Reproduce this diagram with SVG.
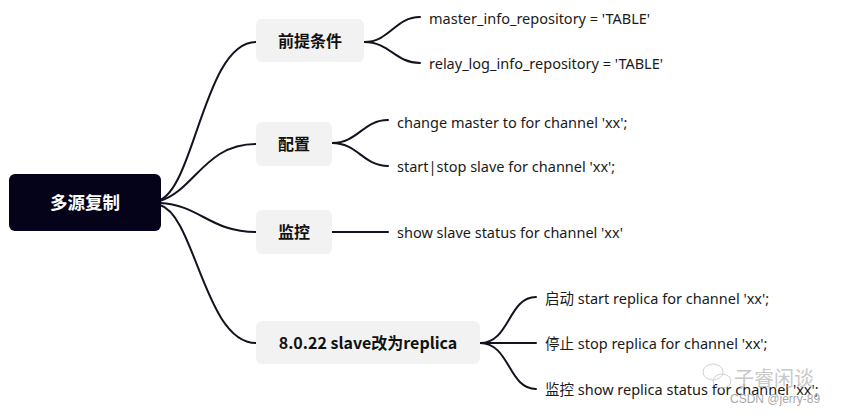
<svg xmlns="http://www.w3.org/2000/svg" width="842" height="416" viewBox="0 0 842 416">
<style>
.ln{fill:none;stroke:#14121f;stroke-width:2;stroke-linecap:round}
.box{fill:#f2f2f2}
.nt{font-family:"Noto Sans CJK SC","Noto Sans",sans-serif;font-size:16px;font-weight:bold;fill:#111;text-anchor:middle}
.lt{font-family:"Noto Sans","Noto Sans CJK SC",sans-serif;font-size:14.5px;fill:#1a1a1a}
.wm{font-family:"Noto Sans CJK SC",sans-serif;fill:#c8c8c8}
</style>
<rect width="842" height="416" fill="#fff"/>
<g id="connectors">
<path class="ln" d="M160,200 C195,185 205,42 256,42"/>
<path class="ln" d="M160,201 C195,190 205,144 256,144"/>
<path class="ln" d="M160,203 C200,205 210,232 256,232"/>
<path class="ln" d="M160,205 C195,215 205,343 256,343"/>
<path class="ln" d="M364,42 C390,42 395,17 420,17"/>
<path class="ln" d="M364,42 C390,42 395,63 420,63"/>
<path class="ln" d="M332,143 C358,143 363,120 388,120"/>
<path class="ln" d="M332,143 C358,143 363,166 388,166"/>
<path class="ln" d="M332,232 L388,232"/>
<path class="ln" d="M480,343 C510,343 508,297 536,297"/>
<path class="ln" d="M480,343 L536,343"/>
<path class="ln" d="M480,343 C510,343 508,389 536,389"/>
</g>
<g id="root">
<rect x="9" y="174" width="152" height="57" rx="6" fill="#05031a"/>
<text x="85" y="209" class="nt" style="fill:#fff;font-size:17.5px">多源复制</text>
</g>
<g id="n1">
<rect class="box" x="256" y="19" width="108" height="43" rx="6"/>
<text x="310" y="47" class="nt">前提条件</text>
</g>
<g id="n1a"><text x="429" y="24" class="lt">master_info_repository = 'TABLE'</text></g>
<g id="n1b"><text x="429" y="69" class="lt">relay_log_info_repository = 'TABLE'</text></g>
<g id="n2">
<rect class="box" x="256" y="122" width="76" height="44" rx="6"/>
<text x="294" y="150" class="nt">配置</text>
</g>
<g id="n2a"><text x="397" y="128" class="lt">change master to for channel 'xx';</text></g>
<g id="n2b"><text x="397" y="172" class="lt">start|stop slave for channel 'xx';</text></g>
<g id="n3">
<rect class="box" x="256" y="210" width="76" height="44" rx="6"/>
<text x="294" y="238" class="nt">监控</text>
</g>
<g id="n3a"><text x="397" y="238" class="lt">show slave status for channel 'xx'</text></g>
<g id="n4">
<rect class="box" x="256" y="321" width="224" height="43" rx="6"/>
<text x="368" y="349" class="nt">8.0.22 slave改为replica</text>
</g>
<g id="n4a"><text x="545" y="304" class="lt">启动 start replica for channel 'xx';</text></g>
<g id="n4b"><text x="545" y="349" class="lt">停止 stop replica for channel 'xx';</text></g>
<g id="n4c"><text x="545" y="395" class="lt">监控 show replica status for channel 'xx';</text></g>
<g fill="none" stroke="#d0d0d0" stroke-width="1">
<ellipse cx="713" cy="372" rx="10" ry="8"/>
<ellipse cx="722" cy="381" rx="9" ry="7"/>
</g>
<text x="734" y="386" class="wm" style="font-size:20px">子睿闲谈</text>
<text x="730" y="403" class="wm" style="font-size:12px;fill:#a8a8a8;font-family:'Liberation Sans',sans-serif">CSDN @jerry-89</text>
</svg>
